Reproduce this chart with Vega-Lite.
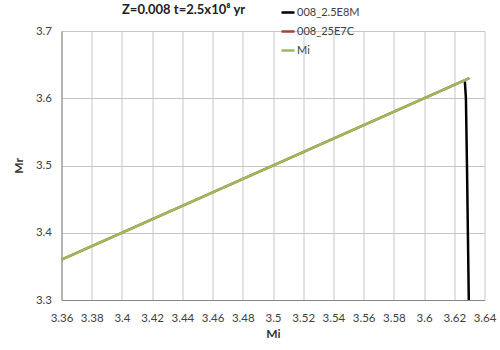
{
  "$schema": "https://vega.github.io/schema/vega-lite/v6.json",
  "width": 423,
  "height": 269,
  "autosize": {"type": "none"},
  "padding": {"left": 61.5, "top": 31, "right": 15.5, "bottom": 50},
  "background": "white",
  "view": {"stroke": null},
  "config": {
    "font": "Lato",
    "axis": {
      "labelFont": "Lato", "labelFontSize": 11.5, "labelColor": "#404040",
      "titleFont": "Lato", "titleFontSize": 12, "titleFontWeight": "bold", "titleColor": "#333333",
      "gridColor": "#c6c6c6", "gridWidth": 1, "domainColor": "#868686", "ticks": false
    }
  },
  "title": {
    "text": "Z=0.008 t=2.5x10⁸ yr",
    "anchor": "start", "frame": "group", "dx": 60.5, "dy": 26.5,
    "font": "Lato", "fontSize": 13, "fontWeight": "bold", "color": "#222222",
    "offset": 14
  },
  "data": {
    "values": [
      {"series": "008_2.5E8M", "Mi": 3.627, "Mr": 3.625, "o": 1},
      {"series": "008_2.5E8M", "Mi": 3.6277, "Mr": 3.6, "o": 2},
      {"series": "008_2.5E8M", "Mi": 3.6284, "Mr": 3.5, "o": 3},
      {"series": "008_2.5E8M", "Mi": 3.629, "Mr": 3.4, "o": 4},
      {"series": "008_2.5E8M", "Mi": 3.6296, "Mr": 3.3, "o": 5},
      {"series": "008_25E7C", "Mi": 3.36, "Mr": 3.36, "o": 1},
      {"series": "008_25E7C", "Mi": 3.63, "Mr": 3.63, "o": 2},
      {"series": "Mi", "Mi": 3.36, "Mr": 3.36, "o": 1},
      {"series": "Mi", "Mi": 3.63, "Mr": 3.63, "o": 2}
    ]
  },
  "encoding": {
    "x": {
      "field": "Mi", "type": "quantitative", "title": "Mi",
      "scale": {"domain": [3.36, 3.64], "nice": false, "zero": false},
      "axis": {"values": [3.36, 3.38, 3.4, 3.42, 3.44, 3.46, 3.48, 3.5, 3.52, 3.54, 3.56, 3.58, 3.6, 3.62, 3.64], "format": ".2~f", "labelPadding": 12, "titlePadding": 5, "labelFlush": false}
    },
    "y": {
      "field": "Mr", "type": "quantitative", "title": "Mr",
      "scale": {"domain": [3.3, 3.7], "nice": false, "zero": false},
      "axis": {"values": [3.3, 3.4, 3.5, 3.6, 3.7], "format": ".1f", "labelPadding": 10, "titlePadding": 10, "labelFlush": false}
    },
    "order": {"field": "o", "type": "quantitative"},
    "color": {
      "field": "series", "type": "nominal",
      "scale": {"domain": ["008_2.5E8M", "008_25E7C", "Mi"], "range": ["#000000", "#a5403b", "#9bbb59"]},
      "legend": {
        "title": null, "orient": "none", "legendX": 218.5, "legendY": -26.5, "padding": 0,
        "symbolType": "stroke", "symbolSize": 169, "symbolStrokeWidth": 2.5,
        "labelFont": "Lato", "labelFontSize": 11, "labelColor": "#404040", "labelOffset": 1, "rowPadding": 6
      }
    }
  },
  "layer": [
    {"transform": [{"filter": "datum.series === '008_2.5E8M'"}], "mark": {"type": "line", "strokeWidth": 2.5, "clip": true}},
    {"transform": [{"filter": "datum.series === '008_25E7C'"}], "mark": {"type": "line", "strokeWidth": 2.5, "clip": true}},
    {"transform": [{"filter": "datum.series === 'Mi'"}], "mark": {"type": "line", "strokeWidth": 2.5, "clip": true}}
  ]
}
